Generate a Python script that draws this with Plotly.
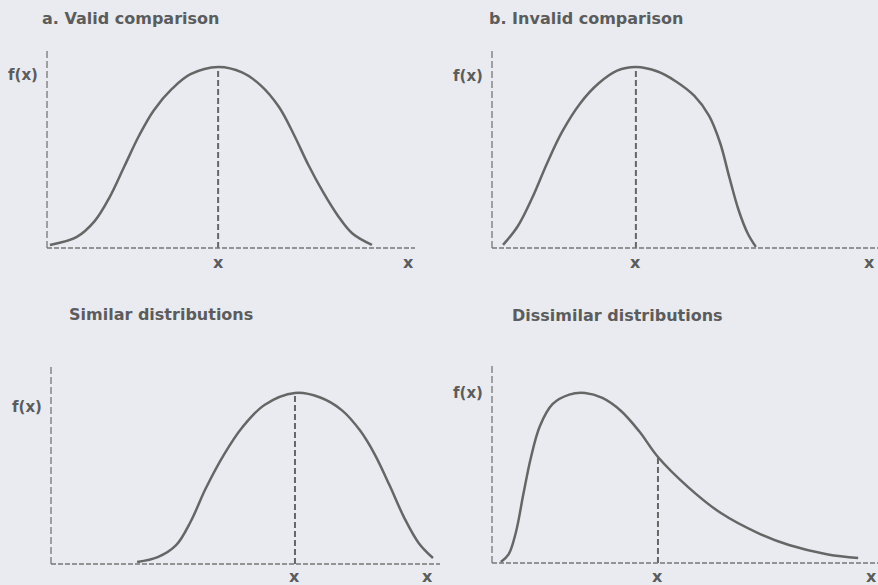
import numpy as np
import plotly.graph_objects as go

# ---- curve data (x in arbitrary units along the axis, f(x) relative height) ----
valid_x = [0.08, 0.8, 1.3, 1.7, 2.1, 2.5, 2.9, 3.4, 3.9, 4.65, 5.3, 5.8, 6.3, 6.7, 7.1, 7.5, 7.9, 8.3, 8.83]
valid_y = [0.017, 0.06, 0.15, 0.28, 0.45, 0.62, 0.76, 0.88, 0.96, 1.00, 0.97, 0.90, 0.78, 0.63, 0.46, 0.31, 0.18, 0.08, 0.017]
valid_mean = 4.65

invalid_x = [0.30, 0.7, 1.1, 1.5, 1.9, 2.4, 2.9, 3.4, 3.91, 4.5, 5.0, 5.5, 5.9, 6.2, 6.45, 6.7, 6.95, 7.17]
invalid_y = [0.017, 0.12, 0.28, 0.47, 0.64, 0.80, 0.91, 0.98, 1.00, 0.975, 0.92, 0.84, 0.73, 0.58, 0.39, 0.21, 0.08, 0.006]
invalid_mean = 3.91

similar_x = [2.34, 2.9, 3.4, 3.8, 4.2, 4.7, 5.2, 5.8, 6.63, 7.3, 7.9, 8.4, 8.8, 9.2, 9.6, 10.0, 10.38]
similar_y = [0.012, 0.04, 0.11, 0.25, 0.44, 0.64, 0.80, 0.93, 1.00, 0.975, 0.90, 0.78, 0.64, 0.46, 0.27, 0.12, 0.035]
similar_mean = 6.63

dissimilar_x = [0.24, 0.45, 0.65, 0.85, 1.05, 1.3, 1.65, 2.1, 2.53, 3.0, 3.5, 4.0, 4.51, 5.33, 6.22, 7.23, 8.07, 9.13, 9.95]
dissimilar_y = [0.006, 0.05, 0.18, 0.40, 0.61, 0.80, 0.93, 0.985, 0.994, 0.965, 0.89, 0.77, 0.62, 0.444, 0.292, 0.175, 0.105, 0.05, 0.029]
dissimilar_mean = 4.51

titles = ["a. Valid comparison", "b. Invalid comparison", "Similar distributions", "Dissimilar distributions"]
y_label = "f(x)"
x_label = "x"

# ---- page geometry (pixels) ----
W, H = 878, 585
PX_PER_X = 36.8

panels = [
    dict(x=valid_x, y=valid_y, mean=valid_mean, x0=47, x1=415, yb=248, yt=50, sy=181,
         tpos=(40, 18), fy=0.956, xend=9.81, lab_dy=14),
    dict(x=invalid_x, y=invalid_y, mean=invalid_mean, x0=492, x1=878, yb=248, yt=50, sy=181,
         tpos=(487, 19), fy=0.950, xend=10.27, lab_dy=14),
    dict(x=similar_x, y=similar_y, mean=similar_mean, x0=51, x1=440, yb=564, yt=367, sy=171,
         tpos=(67, 314), fy=0.918, xend=10.24, lab_dy=12),
    dict(x=dissimilar_x, y=dissimilar_y, mean=dissimilar_mean, x0=492, x1=878, yb=563, yt=363, sy=171,
         tpos=(510, 315), fy=0.994, xend=10.30, lab_dy=13),
]

INK = "#666666"
TEXT = "#5c5c5c"
FONT = "DejaVu Sans"

fig = go.Figure()
shapes = []
annotations = []

for i, p in enumerate(panels):
    k = "" if i == 0 else str(i + 1)
    xa, ya = "x" + k, "y" + k

    x_range = [0, (p["x1"] - p["x0"]) / PX_PER_X]
    y_range = [0, (p["yb"] - p["yt"]) / p["sy"]]

    fig.update_layout(**{
        "xaxis" + k: dict(domain=[p["x0"] / W, p["x1"] / W], range=x_range, anchor=ya,
                          visible=False, fixedrange=True),
        "yaxis" + k: dict(domain=[1 - p["yb"] / H, 1 - p["yt"] / H], range=y_range, anchor=xa,
                          visible=False, fixedrange=True),
    })

    # distribution curve
    fig.add_trace(go.Scatter(x=p["x"], y=p["y"], xaxis=xa, yaxis=ya, mode="lines",
                             line=dict(color=INK, width=2.5, shape="spline", smoothing=1.0),
                             hoverinfo="skip", showlegend=False))

    # dashed line at the mean
    top = float(np.interp(p["mean"], p["x"], p["y"]))
    fig.add_trace(go.Scatter(x=[p["mean"], p["mean"]], y=[0, top], xaxis=xa, yaxis=ya, mode="lines",
                             line=dict(color=INK, width=2, dash="6px,3px"),
                             hoverinfo="skip", showlegend=False))

    # axes
    shapes.append(dict(type="line", xref=xa + " domain", yref=ya + " domain",
                       x0=0, x1=0, y0=0, y1=1, line=dict(color="#777777", width=1.3, dash="7px,3px")))
    shapes.append(dict(type="line", xref=xa + " domain", yref=ya + " domain",
                       x0=0, x1=1, y0=0, y1=0, line=dict(color="#777777", width=1.3, dash="5px,2px")))

    # labels
    annotations.append(dict(text=titles[i], xref="paper", yref="paper",
                            x=p["tpos"][0] / W, y=1 - p["tpos"][1] / H,
                            xanchor="left", yanchor="middle", showarrow=False,
                            font=dict(family=FONT, size=16, color=TEXT, weight="bold")))
    annotations.append(dict(text=y_label, xref=xa + " domain", yref=ya,
                            x=0, y=p["fy"], xanchor="right", yanchor="middle", xshift=-7,
                            showarrow=False, font=dict(family=FONT, size=15, color=TEXT, weight="bold")))
    for xv in (p["mean"], p["xend"]):
        annotations.append(dict(text=x_label, xref=xa, yref=ya, x=xv, y=0,
                                xanchor="center", yanchor="middle", yshift=-p["lab_dy"],
                                showarrow=False, font=dict(family=FONT, size=16, color=TEXT, weight="bold")))

fig.update_layout(
    width=W, height=H,
    margin=dict(l=0, r=0, t=0, b=0),
    paper_bgcolor="#e9ebf0",
    plot_bgcolor="rgba(0,0,0,0)",
    shapes=shapes,
    annotations=annotations,
    showlegend=False,
)

fig.write_html("out.html", config={"displayModeBar": False})
